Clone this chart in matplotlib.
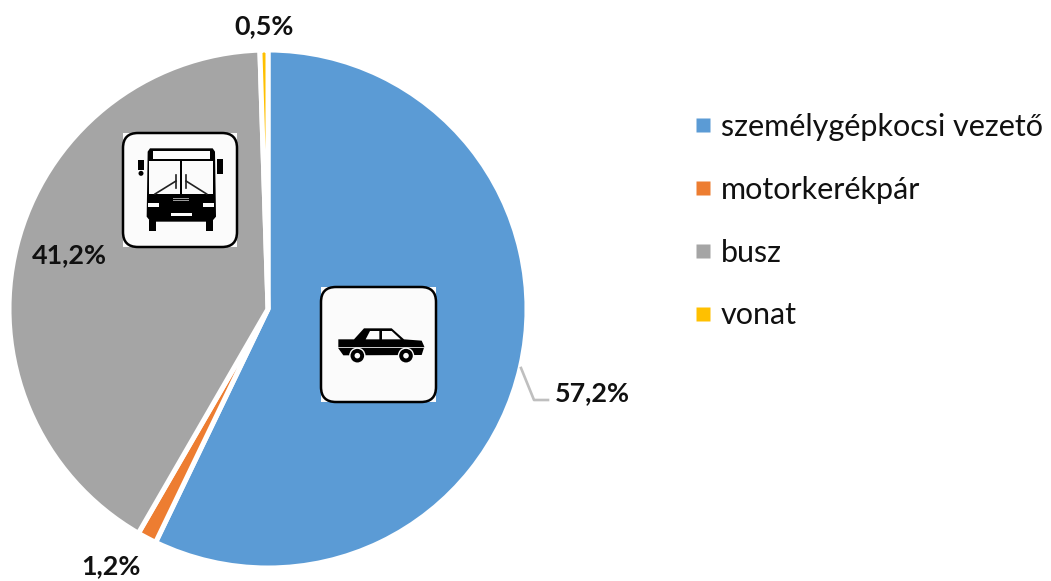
"""
Commuting mode share pie
"""

import matplotlib

matplotlib.use("Agg")

import matplotlib.pyplot as plt
from matplotlib.lines import Line2D
from matplotlib.patches import Circle, FancyBboxPatch, Polygon, Rectangle

WIDTH = 1051
HEIGHT = 581

CATEGORIES = ["személygépkocsi vezető", "motorkerékpár", "busz", "vonat"]
SHARES = [57.2, 1.2, 41.2, 0.5]
SHARE_LABELS = ["57,2%", "1,2%", "41,2%", "0,5%"]
COLORS = ["#5B9BD5", "#ED7D31", "#A5A5A5", "#FFC000"]
LABEL_POS = [(592, 393), (111, 566), (69, 255), (264, 26)]

plt.rcParams["font.family"] = ["Lato", "DejaVu Sans"]


def flip(y):
    return HEIGHT - y


def icon_box(ax, left, top, size):
    ax.add_patch(Rectangle((left, flip(top + size)), size, size, fc="#FBFBFB", ec="none", zorder=3))
    ax.add_patch(
        FancyBboxPatch(
            (left + 15, flip(top + size - 15)),
            size - 30,
            size - 30,
            boxstyle="round,pad=15,rounding_size=15",
            fc="#FBFBFB",
            ec="black",
            lw=1.8,
            zorder=3,
        )
    )


def shape(ax, x0, y0, points, color="black", z=4):
    # points are in 3x zoomed pixels of the icon
    ax.add_patch(
        Polygon(
            [(x0 + x / 3, flip(y0 + y / 3)) for x, y in points],
            closed=True,
            fc=color,
            ec="none",
            zorder=z,
        )
    )


def box(ax, x0, y0, x1, y1, x2, y2, color="black", z=4):
    shape(ax, x0, y0, [(x1, y1), (x2, y1), (x2, y2), (x1, y2)], color, z)


def draw_car(ax):
    x0, y0 = 310, 280
    icon_box(ax, 321, 287, 115)
    shape(ax, x0, y0, [(132, 178), (162, 145), (245, 145), (282, 178), (335, 182), (343, 200),
                       (335, 225), (100, 226), (85, 205), (85, 178)])
    shape(ax, x0, y0, [(167, 178), (180, 153), (208, 153), (208, 178)], "#FBFBFB", 5)
    shape(ax, x0, y0, [(216, 153), (245, 153), (272, 178), (216, 178)], "#FBFBFB", 5)
    box(ax, x0, y0, 85, 201, 343, 204, "#C8C8C8", 5)
    for wheel_x in [142, 288]:
        center = (x0 + wheel_x / 3, flip(y0 + 227 / 3))
        ax.add_patch(Circle(center, 8.2, fc="#FBFBFB", ec="none", zorder=6))
        ax.add_patch(Circle(center, 6.8, fc="black", ec="none", zorder=7))
        ax.add_patch(Circle(center, 2.8, fc="#FBFBFB", ec="none", zorder=8))


def draw_bus(ax):
    x0, y0 = 110, 120
    icon_box(ax, 123, 133, 114)
    # body
    shape(ax, x0, y0, [(120, 85), (308, 85), (315, 95), (318, 290), (305, 305), (122, 305), (110, 290), (113, 95)])
    box(ax, x0, y0, 130, 92, 300, 118, "#FBFBFB", 5)
    box(ax, x0, y0, 118, 122, 210, 222, "#FBFBFB", 5)
    box(ax, x0, y0, 215, 122, 310, 222, "#FBFBFB", 5)
    # wheels
    box(ax, x0, y0, 118, 300, 138, 332)
    box(ax, x0, y0, 288, 300, 308, 332)
    # lights and plate
    box(ax, x0, y0, 115, 248, 148, 260, "#FBFBFB", 5)
    box(ax, x0, y0, 278, 248, 312, 260, "#FBFBFB", 5)
    box(ax, x0, y0, 182, 278, 245, 288, "#FBFBFB", 5)
    # grille
    for y in [227, 234, 241]:
        box(ax, x0, y0, 188, y, 238, y + 2, "#9A9A9A", 5)
    # mirrors
    box(ax, x0, y0, 85, 120, 103, 150)
    box(ax, x0, y0, 322, 118, 340, 162)
    ax.add_patch(Circle((x0 + 93 / 3, flip(y0 + 160 / 3)), 2.5, fc="black", ec="none", zorder=4))
    # wipers
    for a, b in [((135, 222), (198, 183)), ((228, 183), (290, 222)), ((198, 165), (198, 205)), ((228, 165), (228, 205))]:
        ax.plot(
            [x0 + a[0] / 3, x0 + b[0] / 3],
            [flip(y0 + a[1] / 3), flip(y0 + b[1] / 3)],
            color="#222222",
            lw=1.2,
            zorder=6,
        )


fig = plt.figure(figsize=(WIDTH / 100, HEIGHT / 100), dpi=100)
ax = fig.add_axes([0, 0, 1, 1])

ax.pie(
    SHARES,
    colors=COLORS,
    startangle=90,
    counterclock=False,
    center=(268, flip(309)),
    radius=259,
    frame=True,
    wedgeprops={"edgecolor": "white", "linewidth": 3.6},
)
ax.set_xlim(0, WIDTH)
ax.set_ylim(0, HEIGHT)
ax.axis("off")

for text, (x, y) in zip(SHARE_LABELS, LABEL_POS):
    ax.text(x, flip(y), text, ha="center", va="center", fontsize=19.4, fontweight="bold", color="#111111")

# leader line for the largest slice
ax.plot([521, 534, 548], [flip(368), flip(400), flip(400)], color="#BFBFBF", lw=1.9)

draw_car(ax)
draw_bus(ax)

handles = [
    Line2D([], [], linestyle="none", marker="s", markersize=9.4, markerfacecolor=c, markeredgecolor="none")
    for c in COLORS
]
ax.legend(
    handles,
    CATEGORIES,
    loc="upper left",
    bbox_to_anchor=(691, flip(113)),
    bbox_transform=ax.transData,
    frameon=False,
    fontsize=22,
    labelcolor="#111111",
    handlelength=0.8,
    handletextpad=0.17,
    labelspacing=1.14,
    borderpad=0,
    borderaxespad=0,
)

fig.savefig("out.png", dpi=100)
